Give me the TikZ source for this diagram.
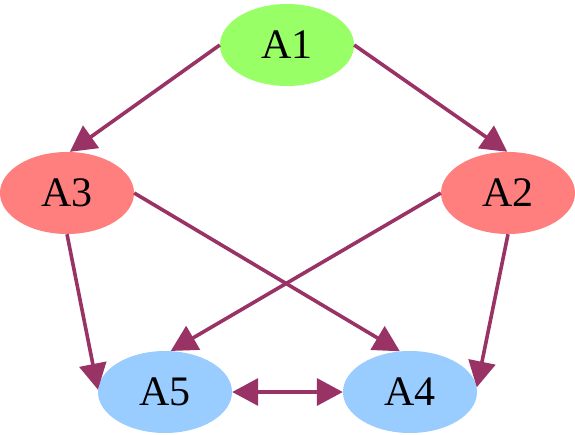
\documentclass[tikz,border=0pt]{standalone}
\usepackage{fontspec}
\setmainfont{Liberation Serif}
\usepackage{xcolor}
\usepackage{tikz}
\usetikzlibrary{arrows.meta,shapes.geometric}
\definecolor{flowgreen}{HTML}{99FF66}
\definecolor{flowred}{HTML}{FF7F7F}
\definecolor{flowblue}{HTML}{99CCFF}
\definecolor{flowedge}{HTML}{993366}

\begin{document}
\begin{tikzpicture}[
  x=1pt,y=-1pt,
  >={Triangle[length=26pt,width=27pt]},
  state/.style={ellipse,inner sep=0pt,minimum width=134pt,minimum height=82pt,
                font=\fontsize{42}{46}\selectfont},
  source/.style={state,fill=flowgreen},
  middle/.style={state,fill=flowred},
  sink/.style={state,fill=flowblue},
  link/.style={line width=3.6pt,flowedge,->},
  mutual/.style={line width=3.6pt,flowedge,<->}
]
  \useasboundingbox (0,0) rectangle (575,434);
  \node[source] (a1) at (287,45) {A1};
  \node[middle] (a3) at (67,193) {A3};
  \node[middle] (a2) at (508,193) {A2};
  \node[sink] (a5) at (165,392) {A5};
  \node[sink] (a4) at (410,392) {A4};

  \draw[link] (a1.west) -- (a3.86);
  \draw[link] (a1.east) -- (a2.91);
  \draw[link] (a3.east) -- (a4.104);
  \draw[link] (a2.west) -- (a5.82);
  \draw[link] (a3.south) -- (a5.178);
  \draw[link] (a2.south) -- (a4.4);
  \draw[mutual] (a5.east) -- (a4.west);
\end{tikzpicture}
\end{document}
